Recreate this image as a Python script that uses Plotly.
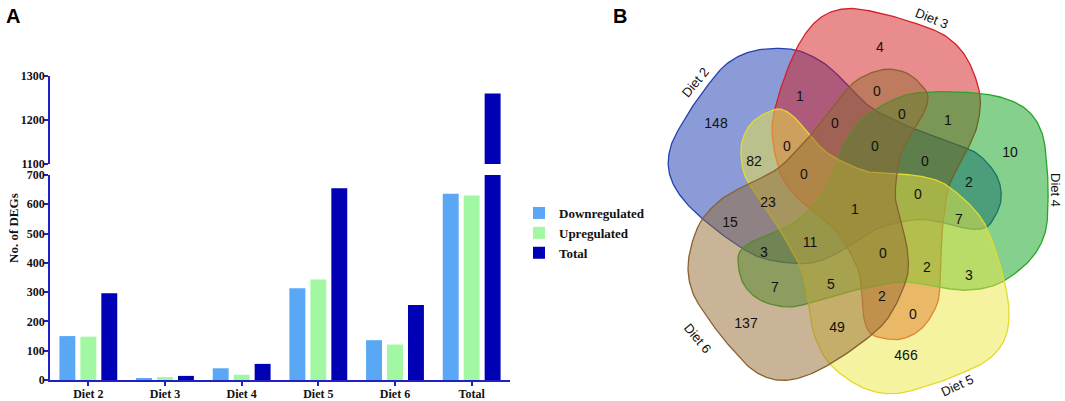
import numpy as np
import plotly.graph_objects as go

# ---------------- data ----------------
categories = ["Diet 2", "Diet 3", "Diet 4", "Diet 5", "Diet 6", "Total"]
downregulated = [150, 4, 40, 313, 136, 636]
upregulated = [148, 10, 18, 343, 121, 630]
total = [296, 14, 55, 655, 256, 1260]
series_names = ["Downregulated", "Upregulated", "Total"]

lower_ticks = [0, 100, 200, 300, 400, 500, 600, 700]
upper_ticks = [1100, 1200, 1300]

venn_sets = ["Diet 2", "Diet 3", "Diet 4", "Diet 5", "Diet 6"]
venn_counts = [4, 1, 0, 0, 1, 148, 0, 0, 82, 0, 0, 10, 0, 2, 0,
               23, 1, 15, 7, 11, 3, 0, 2, 3, 7, 5, 2, 0, 137, 49, 466]

# ---------------- layout / style ----------------
W, H = 1065, 401
AXC = "#2020c8"
series_colors = ["#5aa8f5", "#a2f7a2", "#0000b4"]
SERIF = "Liberation Serif"
SANS = "Liberation Sans"


def py(p):
    return 1 - p / H


def px(p):
    return p / W


# positions (pixel space) of region count labels
venn_count_xy = [(880, 48), (800, 97), (877, 92), (902, 115), (948, 121), (716, 124),
                 (835, 124), (787, 147), (754, 162), (875, 147), (925, 162), (1010, 153),
                 (804, 175), (969, 183), (918, 195), (768, 203), (855, 210), (730, 223),
                 (959, 220), (810, 243), (764, 253), (883, 254), (927, 268), (969, 276),
                 (775, 288), (831, 285), (882, 297), (913, 315), (746, 324), (837, 328),
                 (906, 356)]

# one template blob (relative to the diagram centre), rotated/offset for each set
CENTER = (853, 210)
template = [(-115, 50), (-110, 73), (-93, 90), (-66, 97), (-43, 93), (-18, 86), (7, 79),
            (50, 72), (90, 78), (117, 80), (147, 73), (177, 50), (192, 23), (195, -10),
            (194, -43), (189, -77), (174, -100), (147, -113), (107, -118), (64, -117),
            (40, -110), (17, -97), (4, -86), (-8, -67), (-17, -45), (-26, -23), (-41, -4),
            (-58, 12), (-78, 22), (-98, 30), (-111, 39)]
set_rot = [216, 288, 0, 72, 144]
set_shift = [(16, -15), (12, 2), (0, 0), (3, -6), (8, -13)]
set_fill = ["rgba(21,55,177,0.5)", "rgba(209,25,29,0.5)", "rgba(13,161,29,0.5)",
            "rgba(235,229,65,0.5)", "rgba(147,105,49,0.5)"]
set_line = ["#2440b0", "#d42028", "#28a428", "#e2da2c", "#8a6230"]
set_label_xy = [(695, 82, -50), (932, 18, 22), (1056, 190, 90), (957, 385, -25), (698, 338, 50)]


def closed_spline(pts, n=16):
    P = np.array(pts, dtype=float)
    N = len(P)
    t = np.linspace(0, 1, n, endpoint=False)[:, None]
    out = []
    for i in range(N):
        p0, p1, p2, p3 = P[i - 1], P[i], P[(i + 1) % N], P[(i + 2) % N]
        out.append(0.5 * (2 * p1 + (-p0 + p2) * t + (2 * p0 - 5 * p1 + 4 * p2 - p3) * t ** 2
                          + (-p0 + 3 * p1 - 3 * p2 + p3) * t ** 3))
    out = np.vstack(out)
    return np.vstack([out, out[:1]])


fig = go.Figure()

# ---- bars: lower and upper (broken axis) ----
vals = [downregulated, upregulated, total]
for name, v, c in zip(series_names, vals, series_colors):
    fig.add_trace(go.Bar(x=categories, y=v, name=name, marker=dict(color=c, line=dict(width=0)),
                         xaxis="x", yaxis="y", legendgroup=name))
for name, v, c in zip(series_names, vals, series_colors):
    fig.add_trace(go.Bar(x=categories, y=v, name=name, marker=dict(color=c, line=dict(width=0)),
                         xaxis="x2", yaxis="y2", legendgroup=name, showlegend=False))

# ---- venn ----
curve = closed_spline(template)
cx, cy = CENTER
for i, s in enumerate(venn_sets):
    th = np.deg2rad(set_rot[i])
    dx, dy = set_shift[i]
    xs = cx + dx + curve[:, 0] * np.cos(th) - curve[:, 1] * np.sin(th)
    ys = cy + dy + curve[:, 0] * np.sin(th) + curve[:, 1] * np.cos(th)
    fig.add_trace(go.Scatter(x=xs, y=ys, mode="lines", fill="toself", fillcolor=set_fill[i],
                             line=dict(color=set_line[i], width=1.3), xaxis="x3", yaxis="y3",
                             showlegend=False, hoverinfo="skip", name=s))

fig.add_trace(go.Scatter(x=[p[0] for p in venn_count_xy], y=[p[1] for p in venn_count_xy],
                         mode="text", text=[str(v) for v in venn_counts],
                         textfont=dict(family=SANS, size=14, color="#111111"),
                         xaxis="x3", yaxis="y3", showlegend=False, hoverinfo="skip"))

annotations = []
for s, (lx, ly, ang) in zip(venn_sets, set_label_xy):
    annotations.append(dict(x=lx, y=ly, xref="x3", yref="y3", text=s, showarrow=False,
                            xanchor="center", yanchor="middle",
                            textangle=ang, font=dict(family=SANS, size=13, color="#111111")))
annotations += [
    dict(x=px(13), y=py(228), xref="paper", yref="paper", text="No. of DEGs", showarrow=False,
         xanchor="center", yanchor="middle",
         textangle=-90, font=dict(family=SERIF, size=13, color="#111111", weight="bold")),
    dict(x=px(4), y=py(3), xref="paper", yref="paper", text="A", showarrow=False,
         xanchor="left", yanchor="top", font=dict(family=SANS, size=20, color="#000", weight="bold")),
    dict(x=px(611), y=py(3), xref="paper", yref="paper", text="B", showarrow=False,
         xanchor="left", yanchor="top", font=dict(family=SANS, size=20, color="#000", weight="bold")),
]

tickfont = dict(family=SERIF, size=12, color="#111111", weight="bold")
common_y = dict(showline=True, linecolor=AXC, linewidth=1.5, ticks="outside", ticklen=4,
                tickcolor=AXC, tickwidth=1.5, showgrid=False, zeroline=False, tickfont=tickfont,
                automargin=False, ticklabelstandoff=-3)

fig.update_layout(
    width=W, height=H, margin=dict(l=0, r=0, t=0, b=0, autoexpand=False),
    paper_bgcolor="white", plot_bgcolor="white",
    barmode="group", bargap=0.18, bargroupgap=0.24,
    xaxis=dict(domain=[px(50), px(510)], anchor="y", showline=True, linecolor=AXC, linewidth=1.5,
               ticks="outside", ticklen=4, tickcolor=AXC, tickwidth=1.5, showgrid=False,
               tickfont=tickfont, automargin=False, ticklabelstandoff=-2),
    yaxis=dict(domain=[py(380), py(175)], range=[0, 700], tickvals=lower_ticks, anchor="x", **common_y),
    xaxis2=dict(domain=[px(50), px(510)], matches="x", anchor="y2", visible=False, automargin=False),
    yaxis2=dict(domain=[py(164), py(76)], range=[1100, 1300], tickvals=upper_ticks, anchor="x2", **common_y),
    xaxis3=dict(domain=[px(640), 1], range=[640, 1065], visible=False, anchor="y3", automargin=False),
    yaxis3=dict(domain=[0, 1], range=[401, 0], visible=False, anchor="x3", automargin=False),
    legend=dict(x=px(519), y=py(198), xanchor="left", yanchor="top", bgcolor="rgba(0,0,0,0)",
                font=dict(family=SERIF, size=13, color="#111111", weight="bold"),
                itemwidth=30, tracegroupgap=0),
    annotations=annotations,
    showlegend=True,
)

fig.write_html("out.html", config={"displayModeBar": False},
               post_script="document.body.style.margin='0px';document.body.style.padding='0px';")
